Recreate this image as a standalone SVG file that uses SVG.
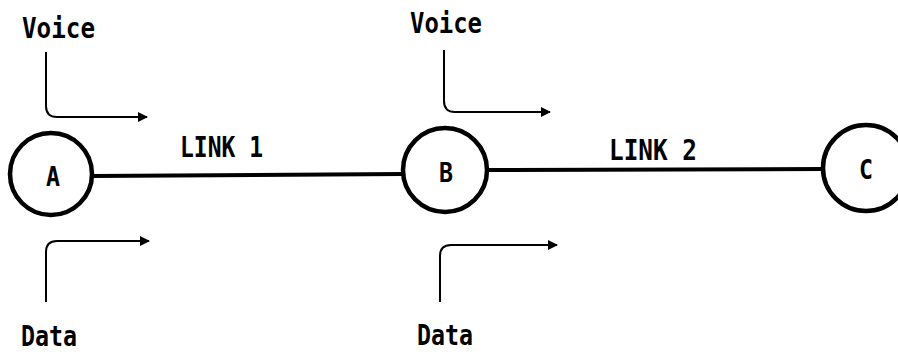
<svg xmlns="http://www.w3.org/2000/svg" width="898" height="354" viewBox="0 0 898 354">
<defs>
<style>
.node{fill:#fff;stroke:#000;stroke-width:4.5}
.link{stroke:#000;stroke-width:4;fill:none}
.flow{stroke:#000;stroke-width:2;fill:none}
text{font-family:"DejaVu Sans Mono","Liberation Mono",monospace;font-weight:bold;fill:#000}
.lbl{font-size:28px}
.nl{font-size:26px;text-anchor:middle}
</style>
<marker id="ah" viewBox="0 0 10 10" refX="9" refY="5" markerWidth="5" markerHeight="5" orient="auto" markerUnits="strokeWidth">
<path d="M0,0 L10,5 L0,10 z" fill="#000"/>
</marker>
</defs>
<rect width="898" height="354" fill="#fff"/>
<g id="connectors">
<line class="link" x1="92" y1="176" x2="404" y2="174"/>
<line class="link" x1="487" y1="170" x2="824" y2="169"/>
<path class="flow" marker-end="url(#ah)" d="M46,52 V106 Q46,117 57,117 H147"/>
<path class="flow" marker-end="url(#ah)" d="M46,302 V252 Q46,241 57,241 H149"/>
<path class="flow" marker-end="url(#ah)" d="M444,50 V101 Q444,112 455,112 H550"/>
<path class="flow" marker-end="url(#ah)" d="M440,302 V256 Q440,245 451,245 H557"/>
<text class="lbl" x="180" y="157" textLength="83" lengthAdjust="spacingAndGlyphs">LINK 1</text>
<text class="lbl" x="609" y="160" textLength="88" lengthAdjust="spacingAndGlyphs">LINK 2</text>
</g>
<g id="node-A">
<circle class="node" cx="51" cy="174" r="41"/>
<text class="nl" x="53" y="186" textLength="14" lengthAdjust="spacingAndGlyphs">A</text>
</g>
<g id="node-B">
<circle class="node" cx="445" cy="170" r="42"/>
<text class="nl" x="446" y="182" textLength="14" lengthAdjust="spacingAndGlyphs">B</text>
</g>
<g id="node-C">
<circle class="node" cx="866" cy="168" r="43"/>
<text class="nl" x="866" y="179" textLength="14" lengthAdjust="spacingAndGlyphs">C</text>
</g>
<g id="labels">
<text class="lbl" x="22" y="38" textLength="73" lengthAdjust="spacingAndGlyphs">Voice</text>
<text class="lbl" x="410" y="33" textLength="72" lengthAdjust="spacingAndGlyphs">Voice</text>
<text class="lbl" x="21" y="346" textLength="56" lengthAdjust="spacingAndGlyphs">Data</text>
<text class="lbl" x="417" y="345" textLength="56" lengthAdjust="spacingAndGlyphs">Data</text>
</g>
</svg>
